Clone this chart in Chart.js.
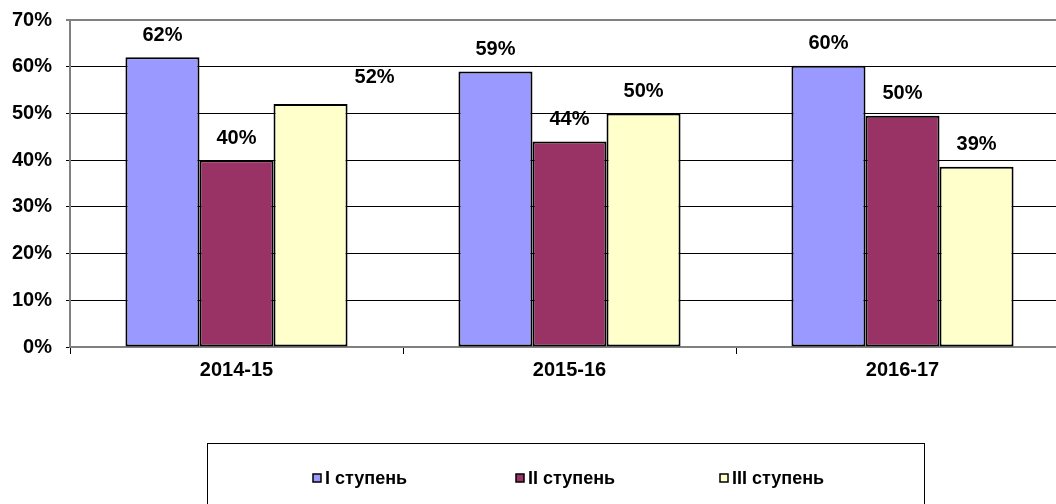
<!DOCTYPE html>
<html>
<head>
<meta charset="utf-8">
<script src="https://cdn.jsdelivr.net/npm/chart.js@4/dist/chart.umd.min.js"></script>
<style>
  html, body { margin: 0; padding: 0; background: #fff; overflow: hidden; }
  canvas { display: block; }
</style>
</head>
<body>
<canvas id="c" width="1069" height="504"></canvas>
<script>
// ---- data ----
const categories = ['2014-15', '2015-16', '2016-17'];
const seriesNames = ['I ступень', 'II ступень', 'III ступень'];
const stage1 = [62, 59, 60.2];
const stage2 = [40, 44, 49.5];
const stage3 = [52, 50, 38.6];
const yTicks = [0, 10, 20, 30, 40, 50, 60, 70];

const colors = ['#9999FF', '#993366', '#FFFFCC'];
const FONT = '"Liberation Sans", Arial, sans-serif';

const dataLabelPlugin = {
  id: 'dataLabels',
  afterDatasetsDraw(chart, args, opts) {
    const ctx = chart.ctx;
    ctx.save();
    ctx.font = 'bold 20px ' + FONT;
    ctx.fillStyle = '#000';
    ctx.textAlign = 'center';
    ctx.textBaseline = 'middle';
    chart.data.datasets.forEach((ds, di) => {
      const meta = chart.getDatasetMeta(di);
      meta.data.forEach((bar, i) => {
        const off = (opts.offsets && opts.offsets[di + ':' + i]) || { dx: 0, dy: 0 };
        ctx.fillText(Math.round(ds.data[i]) + '%', bar.x + off.dx, bar.y - 22 + off.dy);
      });
    });
    ctx.restore();
  }
};

const boxLegendPlugin = {
  id: 'boxLegend',
  afterDraw(chart, args, opts) {
    const ctx = chart.ctx;
    ctx.save();
    ctx.strokeStyle = '#000';
    ctx.lineWidth = 1;
    ctx.strokeRect(opts.box.x + 0.5, opts.box.y + 0.5, opts.box.w, opts.box.h);
    ctx.font = 'bold 18px ' + FONT;
    ctx.textBaseline = 'middle';
    ctx.textAlign = 'left';
    chart.data.datasets.forEach((ds, di) => {
      const x = opts.itemX[di];
      const y = opts.itemY;
      ctx.fillStyle = ds.backgroundColor;
      ctx.fillRect(x, y - 4, 8, 8);
      ctx.strokeStyle = '#000';
      ctx.lineWidth = 1.5;
      ctx.strokeRect(x, y - 4, 8, 8);
      ctx.fillStyle = '#000';
      ctx.fillText(ds.label, x + 12, y + 1);
    });
    ctx.restore();
  }
};

const seriesData = [stage1, stage2, stage3];

new Chart(document.getElementById('c'), {
  type: 'bar',
  data: {
    labels: categories,
    datasets: seriesNames.map((name, i) => ({
      label: name,
      data: seriesData[i],
      backgroundColor: colors[i],
      borderColor: '#000',
      borderWidth: 2,
      borderSkipped: false,
      categoryPercentage: 0.667,
      barPercentage: 1.0
    }))
  },
  plugins: [dataLabelPlugin, boxLegendPlugin],
  options: {
    responsive: false,
    devicePixelRatio: 1,
    animation: false,
    layout: { padding: { top: 20, left: 0, right: 0, bottom: 100 } },
    plugins: {
      legend: { display: false },
      tooltip: { enabled: false },
      dataLabels: { offsets: { '2:0': { dx: 64, dy: -5 } } },
      boxLegend: { box: { x: 207, y: 443, w: 717, h: 70 }, itemX: [313, 516, 720], itemY: 478 }
    },
    scales: {
      x: {
        offset: true,
        afterFit(scale) { scale.height = 57; scale.paddingLeft = 0; scale.paddingRight = 0; },
        grid: { display: true, drawOnChartArea: false, drawTicks: true, tickLength: 7, color: '#000', offset: true },
        border: { display: true, color: '#808080', width: 2 },
        ticks: { color: '#000', padding: 4, font: { family: FONT, size: 20, weight: 'bold' } }
      },
      y: {
        min: 0,
        max: 70,
        afterFit(scale) { scale.width = 70; scale.paddingTop = 0; scale.paddingBottom = 0; },
        afterBuildTicks(scale) { scale.ticks = yTicks.map(v => ({ value: v })); },
        grid: {
          drawTicks: true,
          tickLength: 4,
          color: c => (c.tick && c.tick.value === 70) ? '#808080' : '#000',
          lineWidth: c => (c.tick && c.tick.value === 70) ? 2 : 1
        },
        border: { display: true, color: '#808080', width: 2 },
        ticks: {
          color: '#000',
          padding: 14,
          font: { family: FONT, size: 20, weight: 'bold' },
          callback: v => v + '%'
        }
      }
    }
  }
});
</script>
</body>
</html>
